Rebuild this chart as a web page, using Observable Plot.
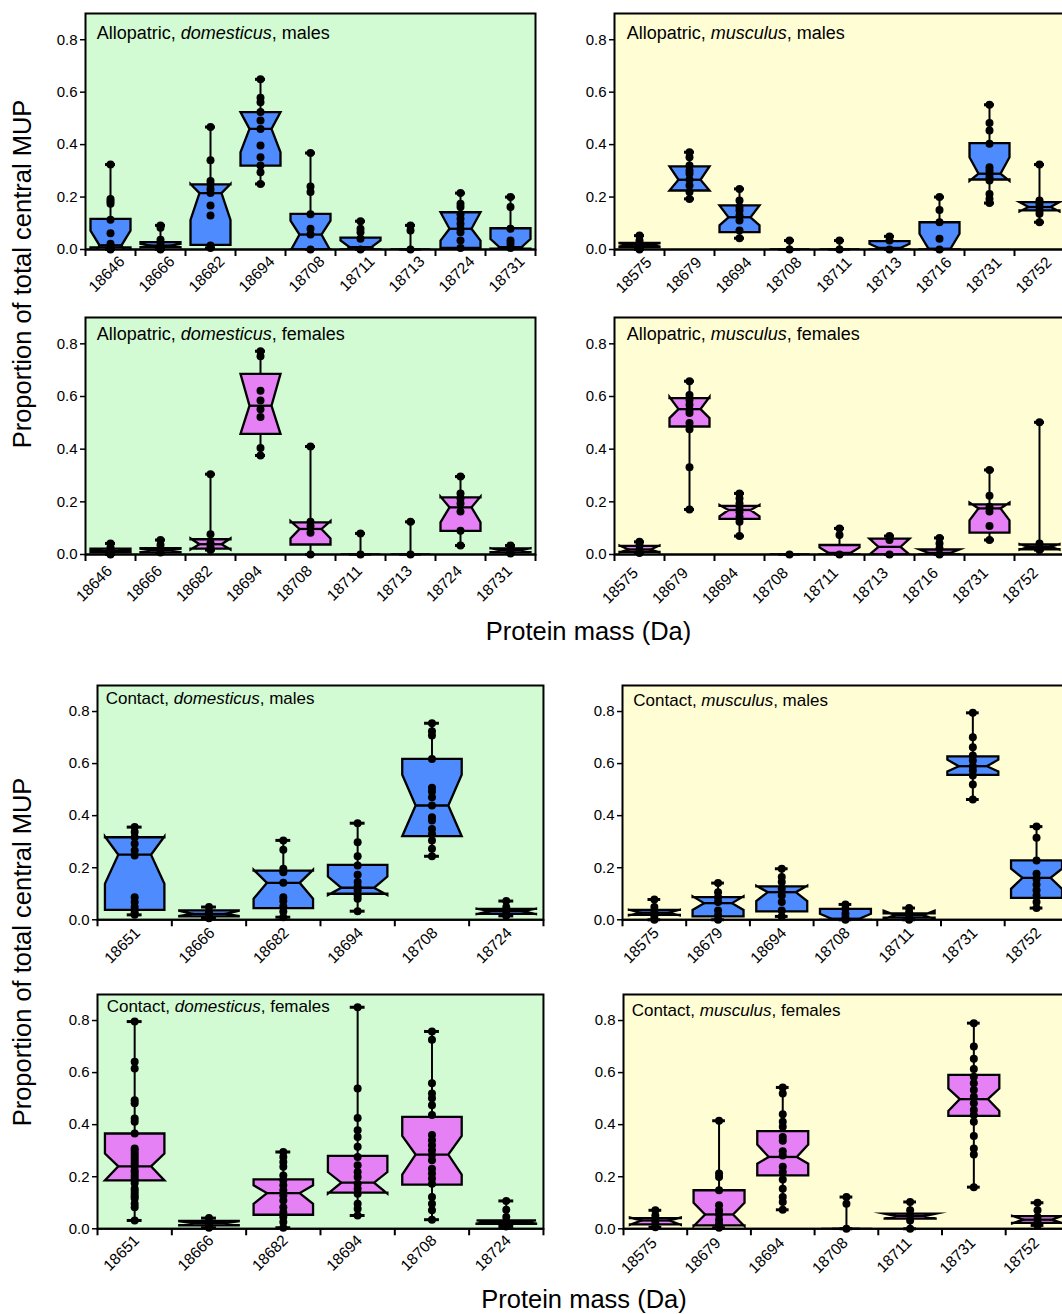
<!DOCTYPE html>
<html><head><meta charset="utf-8">
<script src="https://cdn.jsdelivr.net/npm/d3@7"></script>
<script src="https://cdn.jsdelivr.net/npm/@observablehq/plot@0.6"></script>
<style>
html,body{margin:0;padding:0;overflow:hidden;background:#fff;}
#root{position:relative;width:1062px;height:1314px;overflow:hidden;font-family:"Liberation Sans",Arial,Helvetica,sans-serif;color:#000;}
.panel{position:absolute;}
.panel svg{max-width:none !important;}
.ptitle{position:absolute;white-space:nowrap;line-height:1;transform:translateY(-50%);}
.ytitle{position:absolute;font-size:25.5px;white-space:nowrap;line-height:1;transform:translate(-50%,-50%) rotate(-90deg);}
.xtitle{position:absolute;font-size:25.5px;white-space:nowrap;line-height:1;transform:translate(-50%,-50%);}
</style></head><body><div id="root"></div>
<script>
// ---------------- DATA ----------------
// box stats order: [q1, notchLow, median, notchHigh, q3]
const alloDomMass = ["18646","18666","18682","18694","18708","18711","18713","18724","18731"];
const alloMusMass = ["18575","18679","18694","18708","18711","18713","18716","18731","18752"];
const contDomMass = ["18651","18666","18682","18694","18708","18724"];
const contMusMass = ["18575","18679","18694","18708","18711","18731","18752"];
const yTicks = [0, 0.2, 0.4, 0.6, 0.8];

const alloDomMalesStats = [
  [0.008,-0.04,0.016,0.072,0.117],[0.009,0.008,0.015,0.022,0.028],[0.018,0.113,0.215,0.25,0.248],
  [0.32,0.371,0.46,0.524,0.524],[0,-0.005,0.057,0.11,0.136],[0,-0.02,0.009,0.035,0.045],
  [0,0,0,0,0],[0.006,0.034,0.079,0.142,0.142],[0.003,-0.02,0.009,0.04,0.081]];
const alloDomMalesPoints = [
  [0.324,0.193,0.184,0.174,0.113,0.062,0.022,0.006,0],
  [0.092,0.083,0.037,0.022,0.006,0],
  [0.467,0.34,0.261,0.248,0.231,0.215,0.168,0.13,0.015,0.006],
  [0.649,0.579,0.562,0.524,0.492,0.46,0.397,0.352,0.32,0.295,0.25],
  [0.368,0.24,0.219,0.134,0.079,0.057,0],
  [0.108,0.079,0.066,0.041,0],
  [0.092,0.072,0],
  [0.215,0.174,0.162,0.134,0.117,0.098,0.079,0.066,0.034,0.006],
  [0.2,0.162,0.079,0.034,0.022,0.006]];

const alloMusMalesStats = [
  [0.009,0.012,0.018,0.024,0.025],[0.225,0.225,0.266,0.317,0.317],[0.066,0.092,0.123,0.168,0.168],
  [0,0,0,0,0],[0,0,0,0,0],[0,-0.015,0.006,0.022,0.032],
  [0,-0.05,0.003,0.06,0.104],[0.267,0.262,0.289,0.352,0.406],[0.149,0.145,0.162,0.181,0.181]];
const alloMusMalesPoints = [
  [0.053,0.034,0.022,0.009,0],
  [0.371,0.352,0.32,0.301,0.289,0.266,0.244,0.219,0.193],
  [0.231,0.187,0.162,0.149,0.13,0.111,0.072,0.043],
  [0.034,0],
  [0.034,0],
  [0.05,0.034,0],
  [0.2,0.151,0.104,0.041,0],
  [0.552,0.482,0.454,0.403,0.314,0.301,0.289,0.276,0.263,0.212,0.193,0.177],
  [0.324,0.187,0.174,0.162,0.149,0.136,0.104]];

const alloDomFemalesStats = [
  [0.008,0.01,0.014,0.018,0.022],[0.008,0.01,0.017,0.022,0.024],[0.022,0.019,0.039,0.061,0.058],
  [0.458,0.458,0.565,0.686,0.686],[0.038,0.061,0.097,0.127,0.122],[0,0,0,0,0],
  [0,0,0,0,0],[0.09,0.122,0.179,0.22,0.217],[0.008,0.01,0.017,0.024,0.023]];
const alloDomFemalesPoints = [
  [0.042,0.027,0.014,0.004,0],
  [0.055,0.036,0.019,0.008],
  [0.305,0.077,0.044,0.029,0.017],
  [0.772,0.753,0.622,0.585,0.552,0.522,0.404,0.376],
  [0.41,0.124,0.108,0.083,0],
  [0.08,0],
  [0.124,0],
  [0.296,0.232,0.213,0.194,0.163,0.09,0.034],
  [0.034,0.023,0.01,0.004]];

const alloMusFemalesStats = [
  [0.01,0.008,0.019,0.034,0.033],[0.486,0.518,0.552,0.598,0.594],[0.135,0.145,0.169,0.188,0.185],
  [0,0,0,0,0],[0,-0.02,0.006,0.027,0.036],[0,0,0.029,0.06,0.06],
  [0,-0.01,0.006,0.019,0.019],[0.083,0.13,0.175,0.197,0.19],[0.02,0.018,0.029,0.04,0.038]];
const alloMusFemalesPoints = [
  [0.048,0.036,0.019,0.006],
  [0.658,0.606,0.587,0.569,0.55,0.537,0.499,0.476,0.331,0.171],
  [0.232,0.213,0.194,0.175,0.16,0.143,0.124,0.07],
  [0],
  [0.099,0.074,0],
  [0.07,0.055,0],
  [0.063,0.042,0.023,0],
  [0.321,0.223,0.181,0.163,0.108,0.055],
  [0.502,0.042,0.027,0.017]];

const contDomMalesStats = [
  [0.038,0.138,0.25,0.32,0.317],[0.013,0.015,0.023,0.034,0.036],[0.045,0.081,0.142,0.192,0.189],
  [0.1,0.095,0.123,0.166,0.211],[0.321,0.321,0.439,0.557,0.618],[0.023,0.022,0.033,0.043,0.042]];
const contDomMalesPoints = [
  [0.356,0.337,0.317,0.292,0.266,0.247,0.087,0.068,0.049,0.029,0.019],
  [0.049,0.029,0.017,0.006],
  [0.305,0.269,0.196,0.183,0.142,0.087,0.072,0.051,0.032,0.01],
  [0.371,0.298,0.244,0.209,0.173,0.145,0.128,0.113,0.093,0.081,0.033],
  [0.755,0.724,0.708,0.618,0.507,0.493,0.471,0.439,0.394,0.381,0.349,0.33,0.305,0.273,0.244],
  [0.072,0.049,0.036,0.023,0.015]];

const contMusMalesStats = [
  [0.019,0.017,0.027,0.039,0.038],[0.013,0.038,0.064,0.09,0.087],[0.032,0.072,0.106,0.131,0.128],
  [0,-0.015,0.004,0.023,0.042],[0.008,0.003,0.018,0.035,0.025],[0.557,0.57,0.59,0.615,0.628],
  [0.084,0.119,0.161,0.196,0.228]];
const contMusMalesPoints = [
  [0.078,0.049,0.029,0.013,0],
  [0.141,0.106,0.087,0.068,0.036,0.017,0],
  [0.196,0.164,0.145,0.119,0.093,0.068,0.036,0.013],
  [0.059,0.042,0.023,0.008,0],
  [0.045,0.029,0.017,0],
  [0.795,0.701,0.663,0.631,0.612,0.59,0.573,0.554,0.52,0.462],
  [0.358,0.315,0.228,0.177,0.157,0.136,0.113,0.093,0.068,0.045]];

const contDomFemalesStats = [
  [0.186,0.186,0.24,0.289,0.366],[0.013,0.015,0.022,0.029,0.03],[0.054,0.096,0.137,0.167,0.19],
  [0.139,0.135,0.177,0.218,0.28],[0.17,0.208,0.285,0.357,0.43],[0.019,0.02,0.026,0.032,0.032]];
const contDomFemalesPoints = [
  [0.796,0.642,0.616,0.494,0.482,0.424,0.411,0.366,0.308,0.3,0.289,0.28,0.27,0.26,0.25,0.24,0.225,0.215,0.205,0.195,0.186,0.175,0.154,0.145,0.135,0.125,0.116,0.096,0.083,0.032],
  [0.041,0.026,0.013,0.004],
  [0.295,0.276,0.257,0.238,0.205,0.186,0.167,0.148,0.128,0.109,0.083,0.064,0.045,0.026,0.004],
  [0.851,0.539,0.426,0.379,0.353,0.315,0.276,0.244,0.218,0.199,0.173,0.154,0.135,0.096,0.077,0.051],
  [0.758,0.726,0.559,0.52,0.501,0.475,0.437,0.36,0.34,0.321,0.302,0.283,0.263,0.231,0.212,0.193,0.173,0.122,0.096,0.071,0.035],
  [0.107,0.073,0.045,0.026,0.009]];

const contMusFemalesStats = [
  [0.017,0.015,0.032,0.043,0.041],[0.013,0.01,0.055,0.1,0.148],[0.205,0.25,0.276,0.324,0.375],
  [0,0,0,0,0],[0.039,0.04,0.049,0.058,0.058],[0.434,0.453,0.498,0.539,0.591],
  [0.023,0.021,0.035,0.05,0.049]];
const contMusFemalesPoints = [
  [0.071,0.051,0.032,0.019,0.006],
  [0.415,0.212,0.199,0.148,0.09,0.071,0.055,0.035,0.019,0.004],
  [0.543,0.52,0.44,0.411,0.392,0.353,0.338,0.298,0.282,0.238,0.218,0.189,0.154,0.122,0.103,0.073],
  [0.122,0.096,0],
  [0.103,0.071,0.051,0.032,0],
  [0.79,0.7,0.653,0.614,0.584,0.559,0.533,0.507,0.482,0.456,0.437,0.411,0.356,0.308,0.285,0.16],
  [0.1,0.071,0.045,0.026,0.013]];

// ---------------- STYLE / LAYOUT ----------------
const BLUE = "#4d8bff", PINK = "#e580f5", GREEN = "#d3fbd3", YELLOW = "#fffdd3";
const FONT = "'Liberation Sans', Arial, Helvetica, sans-serif";

const panels = [
  {mass: alloDomMass, stats: alloDomMalesStats, points: alloDomMalesPoints, fill: BLUE, bg: GREEN,
   site: "Allopatric", sp: "domesticus", sex: "males", L: 84.7, T: 13, B: 249, bw: 50, tfs: 18, tx: 96.7, ty: 33, ldx: 11.5, ldy: 9.5},
  {mass: alloMusMass, stats: alloMusMalesStats, points: alloMusMalesPoints, fill: BLUE, bg: YELLOW,
   site: "Allopatric", sp: "musculus", sex: "males", L: 614.3, T: 13, B: 249, bw: 50, tfs: 18, tx: 626.7, ty: 33, ldx: 9.5, ldy: 10.5},
  {mass: alloDomMass, stats: alloDomFemalesStats, points: alloDomFemalesPoints, fill: PINK, bg: GREEN,
   site: "Allopatric", sp: "domesticus", sex: "females", L: 84.7, T: 317.3, B: 554.3, bw: 50, tfs: 18, tx: 96.7, ty: 334, ldx: -1, ldy: 14},
  {mass: alloMusMass, stats: alloMusFemalesStats, points: alloMusFemalesPoints, fill: PINK, bg: YELLOW,
   site: "Allopatric", sp: "musculus", sex: "females", L: 614.3, T: 317.3, B: 554.3, bw: 50, tfs: 18, tx: 626.7, ty: 334, ldx: -4, ldy: 16},
  {mass: contDomMass, stats: contDomMalesStats, points: contDomMalesPoints, fill: BLUE, bg: GREEN,
   site: "Contact", sp: "domesticus", sex: "males", L: 97.3, T: 685, B: 919.3, bw: 74.33, tfs: 17, tx: 105.7, ty: 698, ldx: 3, ldy: 10.5},
  {mass: contMusMass, stats: contMusMalesStats, points: contMusMalesPoints, fill: BLUE, bg: YELLOW,
   site: "Contact", sp: "musculus", sex: "males", L: 622.3, T: 685, B: 919.3, bw: 63.7, tfs: 17, tx: 633.3, ty: 700, ldx: 2, ldy: 10.5},
  {mass: contDomMass, stats: contDomFemalesStats, points: contDomFemalesPoints, fill: PINK, bg: GREEN,
   site: "Contact", sp: "domesticus", sex: "females", L: 97.3, T: 994, B: 1228.3, bw: 74.33, tfs: 17, tx: 106.7, ty: 1005.7, ldx: 2, ldy: 9},
  {mass: contMusMass, stats: contMusFemalesStats, points: contMusFemalesPoints, fill: PINK, bg: YELLOW,
   site: "Contact", sp: "musculus", sex: "females", L: 622.7, T: 994, B: 1228.3, bw: 63.7, tfs: 17, tx: 631.7, ty: 1010, ldx: -1, ldy: 11.5}
];

const root = document.getElementById("root");
const HW = 0.4, NF = 0.55, CAP = 0.1;

function makePanel(p) {
  const n = p.mass.length;
  const mL = 50, mR = 4, mT = 4, mB = 70;
  const R = p.L + n * p.bw;
  const boxes = p.mass.map((m, i) => {
    const [q1, cLo, med, cHi, q3] = p.stats[i];
    return {i, m, c: i + 0.5, q1, cLo, med, cHi, q3, lo: d3.min(p.points[i]), hi: d3.max(p.points[i])};
  });
  const poly = boxes.flatMap(b => {
    const v = [
      [b.c - HW, b.q1], [b.c + HW, b.q1], [b.c + HW, b.cLo], [b.c + HW * NF, b.med], [b.c + HW, b.cHi],
      [b.c + HW, b.q3], [b.c - HW, b.q3], [b.c - HW, b.cHi], [b.c - HW * NF, b.med], [b.c - HW, b.cLo],
      [b.c - HW, b.q1], [b.c + HW, b.q1]];
    return v.map(([x, y]) => ({box: b.i, x, y}));
  });
  const dots = p.points.flatMap((arr, i) => arr.map(v => ({c: i + 0.5, v})));
  const svg = Plot.plot({
    width: R - p.L + mL + mR,
    height: p.B - p.T + mT + mB,
    marginLeft: mL, marginRight: mR, marginTop: mT, marginBottom: mB,
    x: {domain: [0, n], axis: null},
    y: {domain: [0, 0.9], axis: null},
    style: {fontFamily: FONT, background: "transparent", overflow: "visible", maxWidth: "none"},
    marks: [
      Plot.frame({fill: p.bg, stroke: "none"}),
      Plot.ruleX(boxes, {x: "c", y1: "lo", y2: "hi", stroke: "black", strokeWidth: 2}),
      Plot.ruleY(boxes, {y: "lo", x1: d => d.c - CAP, x2: d => d.c + CAP, stroke: "black", strokeWidth: 3}),
      Plot.ruleY(boxes, {y: "hi", x1: d => d.c - CAP, x2: d => d.c + CAP, stroke: "black", strokeWidth: 3}),
      Plot.line(poly, {x: "x", y: "y", z: "box", fill: p.fill, stroke: "black", strokeWidth: 2.3,
        strokeLinejoin: "miter", strokeMiterlimit: 10, strokeLinecap: "butt", curve: "linear", clip: true}),
      Plot.ruleY(boxes, {y: "med", x1: d => d.c - HW * NF, x2: d => d.c + HW * NF, stroke: "black", strokeWidth: 2.3}),
      Plot.dot(dots, {x: "c", y: "v", r: 4, fill: "black", stroke: "none"}),
      Plot.axisY({ticks: yTicks, tickFormat: d3.format(".1f"), tickSize: 5, tickPadding: 3, fontSize: 15, strokeWidth: 1.5, label: null}),
      Plot.axisX({ticks: d3.range(n + 1), tickFormat: () => "", tickSize: 7, strokeWidth: 2, label: null}),
      Plot.text(boxes, {x: "c", text: "m", frameAnchor: "bottom", rotate: -45, textAnchor: "end", lineAnchor: "middle",
        dx: p.ldx, dy: p.ldy, fontSize: 15.5, fill: "black"}),
      Plot.ruleY([0], {stroke: "black", strokeWidth: 2}),
      Plot.frame({stroke: "black", strokeWidth: 2})
    ]
  });
  svg.style.maxWidth = "none";
  const wrap = document.createElement("div");
  wrap.className = "panel";
  wrap.style.left = (p.L - mL) + "px";
  wrap.style.top = (p.T - mT) + "px";
  wrap.appendChild(svg);
  root.appendChild(wrap);

  const t = document.createElement("div");
  t.className = "ptitle";
  t.style.left = p.tx + "px";
  t.style.top = p.ty + "px";
  t.style.fontSize = p.tfs + "px";
  t.innerHTML = `${p.site}, <i>${p.sp}</i>, ${p.sex}`;
  root.appendChild(t);
}

panels.forEach(makePanel);

const titles = [
  {cls: "ytitle", text: "Proportion of total central MUP", x: 22.5, y: 274},
  {cls: "ytitle", text: "Proportion of total central MUP", x: 22.5, y: 951.5},
  {cls: "xtitle", text: "Protein mass (Da)", x: 588.5, y: 632},
  {cls: "xtitle", text: "Protein mass (Da)", x: 584, y: 1300}
];
titles.forEach(o => {
  const d = document.createElement("div");
  d.className = o.cls;
  d.style.left = o.x + "px";
  d.style.top = o.y + "px";
  d.textContent = o.text;
  root.appendChild(d);
});
</script></body></html>
